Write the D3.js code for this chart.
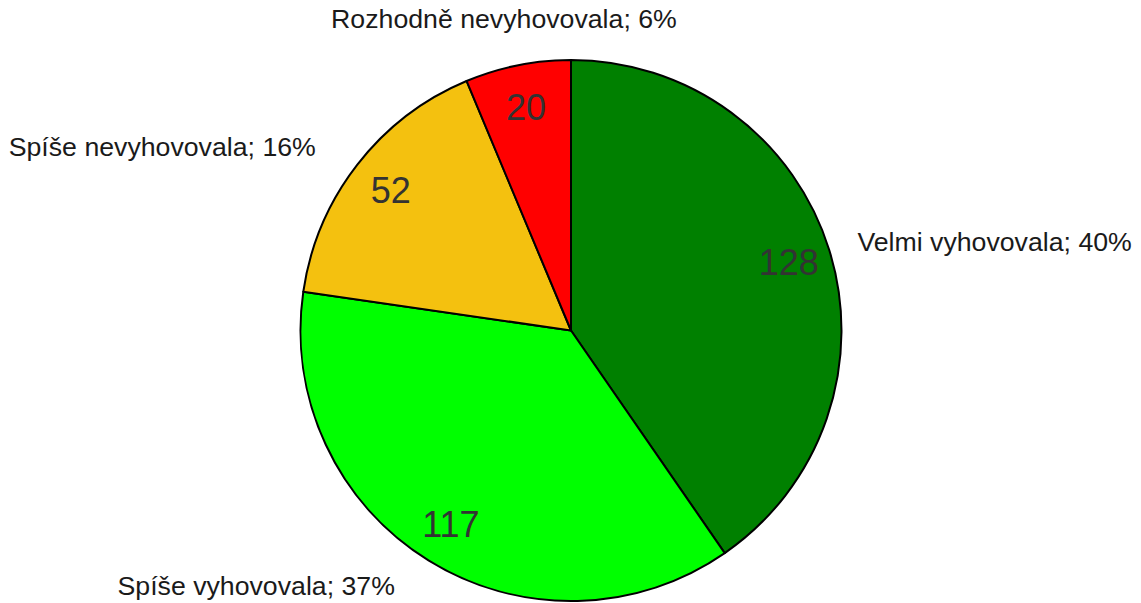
<!DOCTYPE html>
<html>
<head>
<meta charset="utf-8">
<script src="https://cdn.jsdelivr.net/npm/d3@7"></script>
<style>
	body { margin: 0; background: #fff; }
	text { font-family: "Liberation Sans", Arial, sans-serif; }
</style>
</head>
<body>
<script>
// chart data
var categories = ['Velmi vyhovovala', 'Spíše vyhovovala', 'Spíše nevyhovovala', 'Rozhodně nevyhovovala'];
var counts     = [128, 117, 52, 20];
var colours    = ['#008000', '#00ff00', '#f4c10f', '#ff0000'];

var width  = 1141;
var height = 603;
var cx = 571, cy = 330.5, radius = 270.5;

var svg = d3.select('body').append('svg')
	.attr('width', width)
	.attr('height', height);

var g = svg.append('g').attr('transform', 'translate(' + cx + ',' + cy + ')');

var total = d3.sum(counts);
var slices = d3.pie().sort(null)(counts);

var arc = d3.arc().innerRadius(0).outerRadius(radius);
var valueArc = d3.arc().innerRadius(228).outerRadius(228);

g.selectAll('path.slice')
	.data(slices)
	.enter()
	.append('path')
	.attr('class', 'slice')
	.attr('d', arc)
	.attr('fill', function(d, i) { return colours[i]; })
	.attr('stroke', '#000')
	.attr('stroke-width', 2)
	.attr('stroke-linejoin', 'round');

// values inside the slices
g.selectAll('text.value')
	.data(slices)
	.enter()
	.append('text')
	.attr('class', 'value')
	.attr('transform', function(d) { return 'translate(' + valueArc.centroid(d) + ')'; })
	.attr('text-anchor', 'middle')
	.attr('dy', '0.35em')
	.attr('font-size', 36)
	.attr('fill', '#333')
	.text(function(d) { return d.data; });

// category labels outside
var labelR = 300;
g.selectAll('text.cat')
	.data(slices)
	.enter()
	.append('text')
	.attr('class', 'cat')
	.each(function(d, i) {
		var a = (d.startAngle + d.endAngle) / 2;
		var s = Math.sin(a), c = Math.cos(a);
		var x = labelR * s, y = -labelR * c;
		var anchor = 'start';
		if (Math.abs(s) < 0.3) { anchor = 'middle'; y -= 18; x -= 8; }
		else if (s < 0) { anchor = 'end'; x -= 18; }
		d3.select(this)
			.attr('x', x)
			.attr('y', y)
			.attr('dy', '0.35em')
			.attr('text-anchor', anchor);
	})
	.attr('font-size', 26.7)
	.attr('fill', '#1a1a1a')
	.text(function(d, i) {
		return categories[i] + '; ' + Math.round(d.data / total * 100) + '%';
	});
</script>
</body>
</html>
